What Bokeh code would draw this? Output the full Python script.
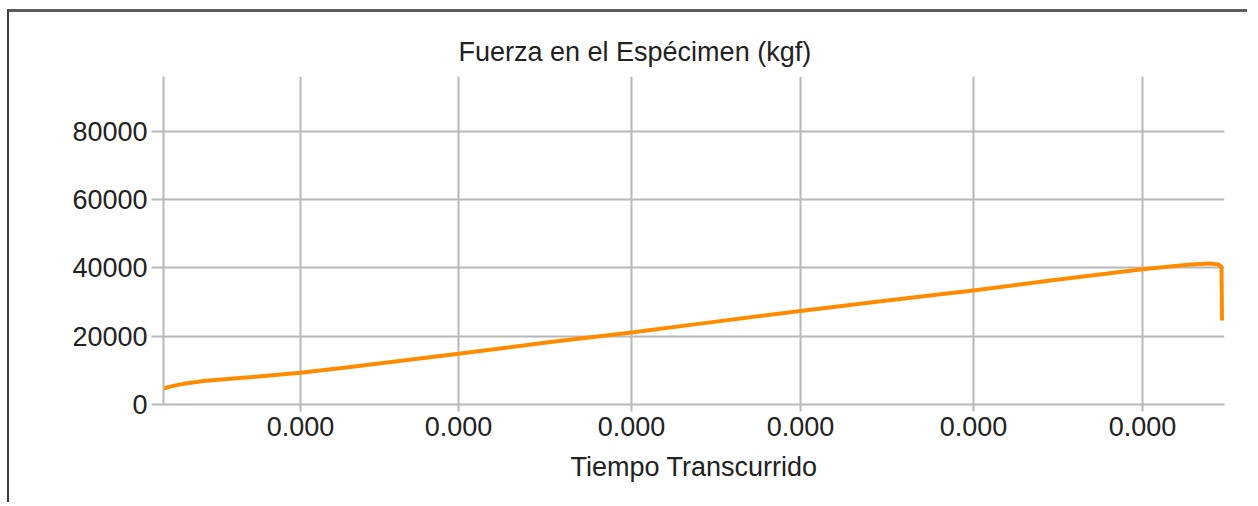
from bokeh.plotting import figure
from bokeh.models import Range1d, FixedTicker, Title
from bokeh.embed import file_html
from bokeh.resources import INLINE

# Data (time normalised 0..1 across the plot width; axis labels all read "0.000")
time_norm = [0.0, 0.0047, 0.0113, 0.0189, 0.0273, 0.0396, 0.0631, 0.0867, 0.1291, 0.1762,
             0.2780, 0.3648, 0.4411, 0.5061, 0.6004, 0.6664, 0.7323, 0.7634, 0.8360,
             0.9227, 0.9679, 0.9868, 0.9943, 0.9972, 0.9976]
force_kgf = [4700, 5100, 5600, 6050, 6450, 6950, 7550, 8150, 9300, 11000,
             14900, 18300, 21100, 23700, 27400, 29900, 32300, 33400, 36300,
             39600, 41000, 41300, 41000, 40300, 24600]

x_ticks = [0.1291, 0.2780, 0.4411, 0.6004, 0.7634, 0.9227]
x_tick_labels = ["0.000", "0.000", "0.000", "0.000", "0.000", "0.000"]
y_ticks = [0, 20000, 40000, 60000, 80000]

FONT = "Liberation Sans"
GRID = "#b8b8b8"
TEXT = "#222222"

p = figure(width=1240, height=493, output_backend="svg", toolbar_location=None,
           x_range=Range1d(0, 1), y_range=Range1d(0, 96100),
           min_border_left=154, min_border_right=25, min_border_top=64, min_border_bottom=101)
p.styles = {"border-top": "3px solid #5c5c5c", "border-left": "2px solid #3c3c3c",
            "margin-top": "9px", "margin-left": "7px"}

p.title = Title(text="Fuerza en el Espécimen (kgf)", align="left", offset=295,
                text_font=FONT, text_font_size="27px", text_font_style="normal",
                text_color=TEXT, standoff=20)

p.outline_line_color = None
p.background_fill_color = "white"
p.border_fill_color = "white"

p.line(time_norm, force_kgf, line_color="#ff8c00", line_width=4, line_join="round")

p.xaxis.ticker = FixedTicker(ticks=x_ticks)
p.xaxis.major_label_overrides = {t: l for t, l in zip(x_ticks, x_tick_labels)}
p.yaxis.ticker = FixedTicker(ticks=y_ticks)

for ax in (p.xaxis, p.yaxis):
    ax.axis_line_color = GRID
    ax.axis_line_width = 2
    ax.major_tick_line_color = GRID
    ax.major_tick_line_width = 2
    ax.major_tick_in = 0
    ax.minor_tick_line_color = None
    ax.major_label_text_font = FONT
    ax.major_label_text_font_size = "27px"
    ax.major_label_text_color = TEXT

p.xaxis.major_tick_out = 7
p.yaxis.major_tick_out = 12
p.xaxis.major_label_standoff = 5
p.yaxis.major_label_standoff = 4

p.xaxis.axis_label = "Tiempo Transcurrido"
p.xaxis.axis_label_text_font = FONT
p.xaxis.axis_label_text_font_size = "27px"
p.xaxis.axis_label_text_font_style = "normal"
p.xaxis.axis_label_text_color = TEXT
p.xaxis.axis_label_standoff = 13

p.xgrid.grid_line_color = GRID
p.xgrid.grid_line_width = 2
p.ygrid.grid_line_color = GRID
p.ygrid.grid_line_width = 2

open("out.html", "w").write(file_html(p, INLINE))
